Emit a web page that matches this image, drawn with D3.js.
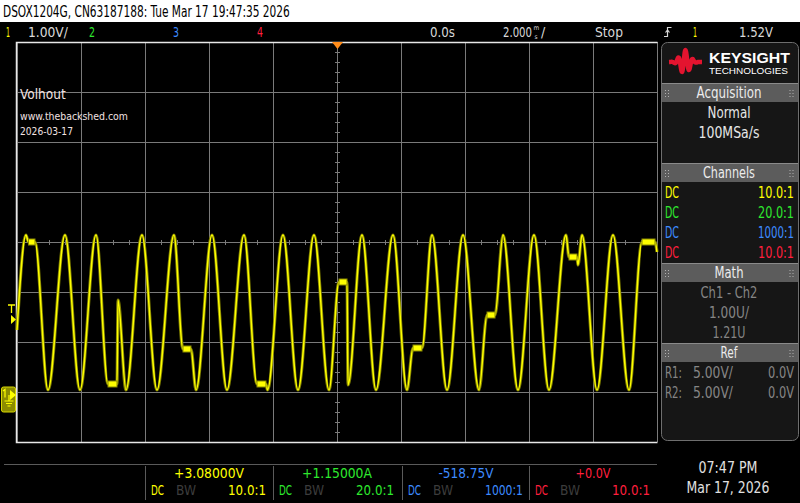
<!DOCTYPE html>
<html>
<head>
<meta charset="utf-8">
<script src="https://cdn.jsdelivr.net/npm/d3@7"></script>
<style>
body { margin: 0; background: #000; overflow: hidden; }
svg { display: block; }
text { font-family: "Liberation Sans Narrow", "DejaVu Sans Condensed", "Roboto Condensed", Roboto, sans-serif; }
</style>
</head>
<body>
<svg id="scope" width="800" height="503"></svg>
<script>
// channel 1 trace: time (ms from trigger), volts
const traceMs = [-10.0, -9.719, -9.641, -9.438, -9.031, -8.5, -8.031, -7.531, -7.156, -6.875,
  -6.844, -6.594, -6.094, -5.625, -5.094, -4.813, -4.563, -4.406, -3.906, -3.438,
  -2.906, -2.5, -2.219, -2.172, -1.688, -1.219, -0.719, -0.25, 0.063, 0.313,
  0.344, 0.781, 1.219, 1.75, 2.188, 2.375, 2.656, 2.969, 3.438, 3.938,
  4.438, 4.688, 4.938, 5.188, 5.656, 6.156, 6.625, 7.156, 7.25, 7.5,
  7.531, 7.656, 8.125, 8.625, 9.125, 9.531, 9.938, 10.0]
const traceV = [1.30, 3.20, 3.06, 3.06, 0.10, 3.20, 0.10, 3.20, 0.22, 0.22,
  1.90, 0.10, 3.20, 0.10, 3.20, 0.92, 0.92, 0.10, 3.20, 0.10,
  3.20, 0.22, 0.22, 0.10, 3.20, 0.10, 3.20, 0.10, 2.26, 2.26,
  0.20, 3.20, 0.10, 3.20, 0.10, 0.94, 0.94, 3.20, 0.10, 3.20,
  0.10, 1.60, 1.60, 3.20, 0.10, 3.20, 0.10, 3.20, 2.76, 2.76,
  2.60, 3.20, 0.10, 3.20, 0.10, 3.06, 3.06, 2.86]

// flat "hold" stretches in the trace
const holdStartMs = [-9.641, -7.156, -4.813, -2.5, 0.063, 2.375, 4.688, 7.25, 9.531]
const holdEndMs = [-9.438, -6.875, -4.563, -2.219, 0.313, 2.656, 4.938, 7.5, 9.938]
const holdV = [3.06, 0.22, 0.92, 0.22, 2.26, 0.94, 1.60, 2.76, 3.06]

const timePerDiv = 2, voltsPerDiv = 1, ch1Offset = 3.06, triggerLevel = 1.52

const chNames = ["1", "2", "3", "4"]
const chColors = ["#ffff00", "#2ee82e", "#3d8bff", "#ff1f3d"]
const probeRatios = ["10.0:1", "20.0:1", "1000:1", "10.0:1"]
const readouts = ["+3.08000V", "+1.15000A", "-518.75V", "+0.0V"]

const refRows = [["R1:", "5.00V/", "0.0V"], ["R2:", "5.00V/", "0.0V"]]
const mathRows = ["Ch1 - Ch2", "1.00U/", "1.21U"]
const acqRows = ["Normal", "100MSa/s"]

const svg = d3.select("#scope")

// squeeze a text horizontally to the width it has on the scope screen
const fit = (sel, w) => {
    const len = sel.node().getComputedTextLength()
    const x0 = +sel.attr("x")
    if (len > 0) sel.attr("transform", `translate(${x0},0) scale(${w / len},1) translate(${-x0},0)`)
    return sel
}

const grat = { left: 17, right: 657, top: 42, bottom: 442 }
const x = d3.scaleLinear().domain([-5 * timePerDiv, 5 * timePerDiv]).range([grat.left, grat.right])
const y = d3.scaleLinear().domain([ch1Offset - 4 * voltsPerDiv, ch1Offset + 4 * voltsPerDiv]).range([grat.bottom, grat.top])

// title bar
svg.append("rect").attr("width", 800).attr("height", 22).attr("fill", "#fff")
fit(svg.append("text").attr("x", 3).attr("y", 17).attr("font-size", 16).attr("fill", "#000")
    .text("DSOX1204G, CN63187188: Tue Mar 17 19:47:35 2026"), 287)

// status line
const status = svg.append("g").attr("font-size", 14)
const statusItems = [
    [6, "1", chColors[0], 4], [28, "1.00V/", "#d8d8d8", 40], [89, "2", chColors[1], 6],
    [173, "3", chColors[2], 6], [257, "4", chColors[3], 6], [430, "0.0s", "#d8d8d8", 25],
    [503, "2.000", "#d8d8d8", 29], [595, "Stop", "#d8d8d8", 28], [693, "1", chColors[0], 4], [739, "1.52V", "#d8d8d8", 34]
]
statusItems.forEach(([sx, label, color, w]) => {
    fit(status.append("text").attr("x", sx).attr("y", 37).attr("fill", color).text(label), w)
})
status.append("text").attr("x", 533.5).attr("y", 29.5).attr("font-size", 6.5).attr("fill", "#d8d8d8").text("m")
status.append("text").attr("x", 534.5).attr("y", 38.5).attr("font-size", 6.5).attr("fill", "#d8d8d8").text("s")
status.append("text").attr("x", 541).attr("y", 37).attr("fill", "#d8d8d8").text("/")
// trigger edge icon
status.append("path").attr("d", "M664,36.5h3.5v-9h4 M665.5,32.5l2,-2.5l2,2.5")
    .attr("fill", "none").attr("stroke", "#d8d8d8").attr("stroke-width", 1.2)

// graticule
const g = svg.append("g")
const vLines = d3.range(-5, 6).map(i => x(i * timePerDiv))
const hLines = d3.range(-4, 5).map(i => y(ch1Offset + i * voltsPerDiv))
g.selectAll(".vl").data(vLines).enter().append("line")
    .attr("x1", d => d + 0.5).attr("x2", d => d + 0.5).attr("y1", grat.top).attr("y2", grat.bottom)
    .attr("stroke", "#7a7a7a")
g.selectAll(".hl").data(hLines).enter().append("line")
    .attr("y1", d => d + 0.5).attr("y2", d => d + 0.5).attr("x1", grat.left).attr("x2", grat.right)
    .attr("stroke", "#7a7a7a")
// minor ticks on the centre lines
const cx = x(0), cy = y(ch1Offset)
g.selectAll(".tx").data(d3.range(-20, 21).filter(i => i % 4)).enter().append("line")
    .attr("x1", i => x(i * timePerDiv / 4) + 0.5).attr("x2", i => x(i * timePerDiv / 4) + 0.5)
    .attr("y1", cy - 2).attr("y2", cy + 3).attr("stroke", "#7a7a7a")
g.selectAll(".ty").data(d3.range(-20, 21).filter(i => i % 5)).enter().append("line")
    .attr("y1", i => y(ch1Offset + i * voltsPerDiv / 5) + 0.5).attr("y2", i => y(ch1Offset + i * voltsPerDiv / 5) + 0.5)
    .attr("x1", cx - 2).attr("x2", cx + 3).attr("stroke", "#7a7a7a")
// frame
g.append("path")
    .attr("d", `M${grat.right + 0.5},${grat.top + 0.5}H${grat.left - 0.5}V${grat.bottom + 0.5}H${grat.right + 0.5}`)
    .attr("fill", "none").attr("stroke", "#e8e8e8").attr("stroke-width", 1.5)

// annotations
const note = svg.append("g").attr("fill", "#f2e2e2").style("font-family", "'Liberation Sans', Arial, sans-serif")
note.append("text").attr("x", 20).attr("y", 99).attr("font-size", 13.5).text("Volhout")
fit(note.append("text").attr("x", 20).attr("y", 120).attr("font-size", 10.5).text("www.thebackshed.com"), 108)
fit(note.append("text").attr("x", 20).attr("y", 135).attr("font-size", 10.5).text("2026-03-17"), 53)

// trace
const pts = traceMs.map((t, i) => [x(t), y(traceV[i])])
const line = d3.line().curve(d3.curveMonotoneX)
svg.append("path").attr("d", line(pts)).attr("fill", "none").attr("stroke", "#7c7c00").attr("stroke-width", 3.2)
svg.append("path").attr("d", line(pts)).attr("fill", "none").attr("stroke", "#ffff00").attr("stroke-width", 1.5)
svg.selectAll(".hold").data(holdV).enter().append("rect")
    .attr("x", (v, i) => x(holdStartMs[i])).attr("width", (v, i) => x(holdEndMs[i]) - x(holdStartMs[i]))
    .attr("y", v => y(v) - 3).attr("height", 6)
    .attr("fill", "#ffff00").attr("stroke", "#8a8a00").attr("stroke-width", 1)

// trigger position marker
svg.append("path").attr("d", `M${cx - 5},${grat.top}h11l-5.5,7z`).attr("fill", "#ff8c1a")

// trigger level marker
const ty = y(triggerLevel)
svg.append("path").attr("d", `M8,${ty - 14}h7 M11.5,${ty - 14}v8`).attr("stroke", chColors[0]).attr("stroke-width", 1.3)
svg.append("path").attr("d", `M11,${ty - 4}v9l5,-4.5z`).attr("fill", chColors[0])

// ground marker for ch1
const gy = y(0)
const gm = svg.append("g")
gm.append("rect").attr("x", 1.5).attr("y", gy - 8).attr("width", 14).attr("height", 25).attr("rx", 2)
    .attr("fill", "#8c8c00").attr("stroke", "#d8d800")
gm.append("path").attr("d", `M10,${gy - 5}v10l6,-5z`).attr("fill", "#ffff00")
gm.append("path").attr("d", `M3,${gy - 4}l2,-1.5v8 M9,${gy}v6 M4.5,${gy + 6}h9 M6,${gy + 8.5}h6 M7.5,${gy + 11}h3`)
    .attr("stroke", "#ffff00").attr("stroke-width", 1.2).attr("fill", "none")

// right side panel
const panel = svg.append("g")
panel.append("rect").attr("x", 661.5).attr("y", 42.5).attr("width", 137).attr("height", 398).attr("rx", 6)
    .attr("fill", "#161616").attr("stroke", "#6e6e6e")

// logo
const logoPts = d3.range(0, 61).map(i => {
    const u = i / 60
    const env = Math.exp(-Math.pow((u - 0.48) / 0.2, 2))
    return [669 + 33 * u, 62 - 12.5 * env * Math.sin(2 * Math.PI * 4.5 * u)]
})
panel.append("path").attr("d", d3.line().curve(d3.curveBasis)(logoPts))
    .attr("fill", "none").attr("stroke", "#e3142f").attr("stroke-width", 4.5).attr("stroke-linejoin", "round")
fit(panel.append("text").attr("x", 709).attr("y", 63).attr("font-size", 15).attr("font-weight", "bold")
    .attr("fill", "#fff").style("font-family", "'Liberation Sans', Arial, sans-serif").text("KEYSIGHT"), 81)
fit(panel.append("text").attr("x", 709).attr("y", 74).attr("font-size", 9.5)
    .attr("fill", "#fff").style("font-family", "'Liberation Sans', Arial, sans-serif").text("TECHNOLOGIES"), 79)

const headers = [["Acquisition", 83, 65], ["Channels", 163, 52], ["Math", 263, 29], ["Ref", 343, 17]]
headers.forEach(([label, top, w]) => {
    panel.append("rect").attr("x", 662).attr("y", top).attr("width", 136).attr("height", 19)
        .attr("fill", "#5c5c5c")
    panel.append("line").attr("x1", 662).attr("x2", 798).attr("y1", top + 0.5).attr("y2", top + 0.5).attr("stroke", "#8a8a8a")
    fit(panel.append("text").attr("x", 729).attr("y", top + 15).attr("text-anchor", "middle")
        .attr("font-size", 16).attr("fill", "#ececec").text(label), w)
    for (const dx of [665, 668, 789.5, 792.5])
        for (const dy of [7, 10, 13])
            panel.append("rect").attr("x", dx).attr("y", top + dy).attr("width", 1).attr("height", 1).attr("fill", "#b0b0b0")
})

const acqW = [43, 61]
acqRows.forEach((label, i) => {
    fit(panel.append("text").attr("x", 729).attr("y", 118 + i * 20).attr("text-anchor", "middle")
        .attr("font-size", 15).attr("fill", "#e6e6e6").text(label), acqW[i])
})

chNames.forEach((c, i) => {
    fit(panel.append("text").attr("x", 665).attr("y", 198 + i * 20).attr("font-size", 15).attr("fill", chColors[i]).text("DC"), 14)
    fit(panel.append("text").attr("x", 794).attr("y", 198 + i * 20).attr("font-size", 15).attr("text-anchor", "end")
        .attr("fill", chColors[i]).text(probeRatios[i]), 36)
})

const mathW = [57, 40, 33]
mathRows.forEach((label, i) => {
    fit(panel.append("text").attr("x", 729).attr("y", 298 + i * 20).attr("text-anchor", "middle")
        .attr("font-size", 15).attr("fill", "#858585").text(label), mathW[i])
})

refRows.forEach((r, i) => {
    const yy = 378 + i * 20
    fit(panel.append("text").attr("x", 665).attr("y", yy).attr("font-size", 15).attr("fill", "#858585").text(r[0]), 17)
    fit(panel.append("text").attr("x", 693).attr("y", yy).attr("font-size", 15).attr("fill", "#858585").text(r[1]), 40)
    fit(panel.append("text").attr("x", 794).attr("y", yy).attr("font-size", 15).attr("text-anchor", "end").attr("fill", "#858585").text(r[2]), 26)
})

// bottom channel readouts
const foot = svg.append("g").attr("font-size", 14)
foot.append("line").attr("x1", 4).attr("x2", 657).attr("y1", 464.5).attr("y2", 464.5).attr("stroke", "#5a5a5a")
const boxLeft = [145, 273, 402, 529]
const readW = [70, 70, 55, 35]
boxLeft.forEach((bx, i) => {
    foot.append("line").attr("x1", bx + 0.5).attr("x2", bx + 0.5).attr("y1", 466).attr("y2", 500).attr("stroke", "#5a5a5a")
    fit(foot.append("text").attr("x", bx + 64).attr("y", 478).attr("text-anchor", "middle").attr("fill", chColors[i]).text(readouts[i]), readW[i])
    fit(foot.append("text").attr("x", bx + 6).attr("y", 495).attr("fill", chColors[i]).text("DC"), 13)
    fit(foot.append("text").attr("x", bx + 31).attr("y", 495).attr("fill", "#3c3c3c").text("BW"), 20)
    fit(foot.append("text").attr("x", bx + 121).attr("y", 495).attr("text-anchor", "end").attr("fill", chColors[i]).text(probeRatios[i]), 38)
})
fit(foot.append("text").attr("x", 728).attr("y", 473).attr("text-anchor", "middle").attr("font-size", 16).attr("fill", "#e0e0e0").text("07:47 PM"), 59)
fit(foot.append("text").attr("x", 728).attr("y", 493).attr("text-anchor", "middle").attr("font-size", 16).attr("fill", "#e0e0e0").text("Mar 17, 2026"), 83)
</script>
</body>
</html>
